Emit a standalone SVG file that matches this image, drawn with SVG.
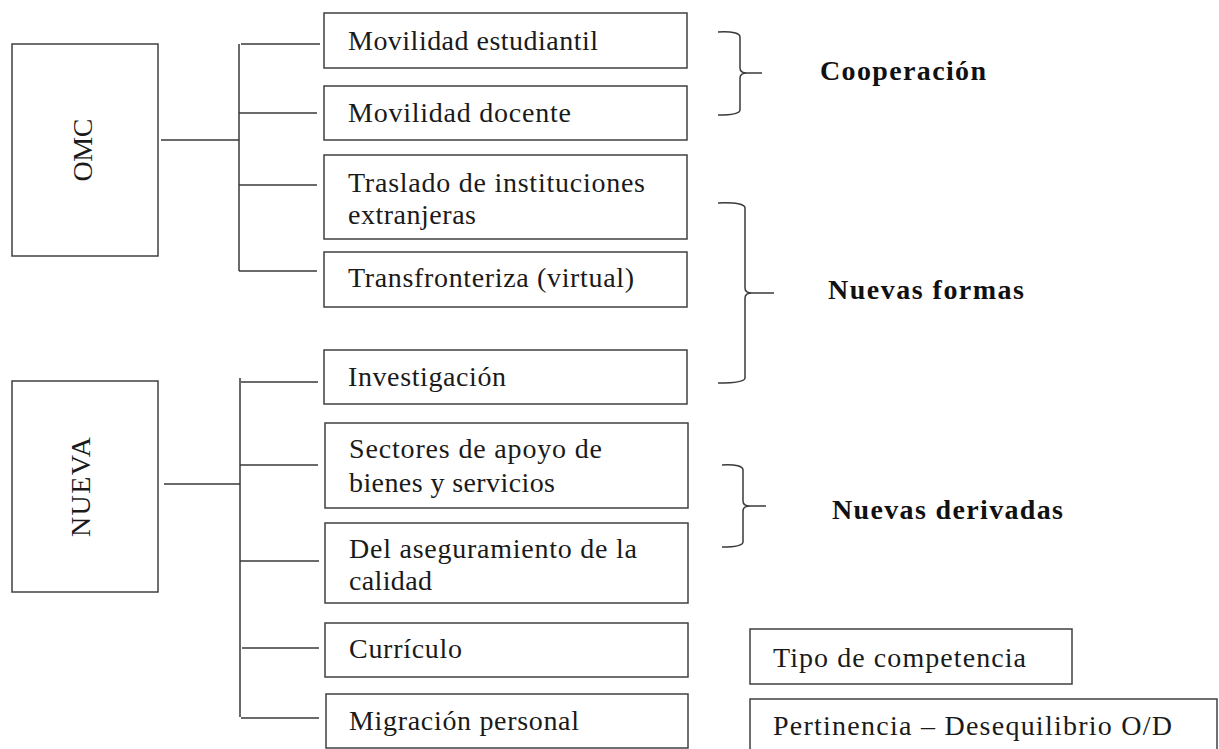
<svg xmlns="http://www.w3.org/2000/svg" width="1219" height="749" viewBox="0 0 1219 749">
<style>
.box{fill:#fff;stroke:#404040;stroke-width:1.5}
.ln{fill:none;stroke:#3a3a3a;stroke-width:1.5}
text{font-family:'Liberation Serif','Times New Roman',Times,serif;font-size:28px;fill:#1a1a1a}
.b{font-weight:bold;fill:#111}
</style>
<rect width="1219" height="749" fill="#fff"/>
<g id="connectors">
<path class="ln" d="M161,140 H239 M239,44 V271 M241,44 H320 M239,113 H317 M239,185 H317 M239,271 H317"/>
<path class="ln" d="M164,484 H240 M240,378 V717 M241,382 H318 M240,465 H318 M240,561 H319 M242,648 H319 M241,718 H319"/>
<path class="ln" d="M718,32 Q740,31 740,37 V68 Q740,73 747,73 H762 M747,73 Q740,73 740,78 V110 Q740,115 718,115"/>
<path class="ln" d="M718,203 Q745,202 745,208 V288 Q745,293 752,293 H774 M752,293 Q745,293 745,298 V378 Q745,383 718,383"/>
<path class="ln" d="M722,465 Q743,464 743,470 V501 Q743,506 750,506 H766 M750,506 Q743,506 743,511 V542 Q743,547 722,547"/>
</g>
<g id="omc"><rect class="box" x="12" y="44" width="146" height="212"/><text transform="translate(92,150) rotate(-90)" text-anchor="middle" textLength="63">OMC</text></g>
<g id="nueva"><rect class="box" x="12" y="381" width="146" height="211"/><text transform="translate(90,487) rotate(-90)" text-anchor="middle" textLength="100">NUEVA</text></g>
<g id="n1"><rect class="box" x="324" y="13" width="363" height="55"/><text x="348" y="50" textLength="250">Movilidad estudiantil</text></g>
<g id="n2"><rect class="box" x="324" y="86" width="363" height="54"/><text x="348" y="122" textLength="223">Movilidad docente</text></g>
<g id="n3"><rect class="box" x="324" y="155" width="363" height="84"/><text x="348" y="192" textLength="297">Traslado de instituciones</text><text x="348" y="224" textLength="128">extranjeras</text></g>
<g id="n4"><rect class="box" x="324" y="252" width="363" height="55"/><text x="348" y="287" textLength="286">Transfronteriza (virtual)</text></g>
<g id="n5"><rect class="box" x="324" y="350" width="363" height="54"/><text x="348" y="386" textLength="158">Investigación</text></g>
<g id="n6"><rect class="box" x="325" y="423" width="363" height="85"/><text x="349" y="458" textLength="253">Sectores de apoyo de</text><text x="349" y="492" textLength="206">bienes y servicios</text></g>
<g id="n7"><rect class="box" x="325" y="523" width="363" height="80"/><text x="349" y="558" textLength="288">Del aseguramiento de la</text><text x="349" y="590" textLength="83">calidad</text></g>
<g id="n8"><rect class="box" x="325" y="623" width="363" height="54"/><text x="349" y="658" textLength="113">Currículo</text></g>
<g id="n9"><rect class="box" x="326" y="694" width="362" height="54"/><text x="349" y="730" textLength="230">Migración personal</text></g>
<g id="l1"><text class="b" x="820" y="80" textLength="166">Cooperación</text></g>
<g id="l2"><text class="b" x="828" y="299" textLength="196">Nuevas formas</text></g>
<g id="l3"><text class="b" x="832" y="519" textLength="231">Nuevas derivadas</text></g>
<g id="r1"><rect class="box" x="750" y="629" width="322" height="55"/><text x="773" y="667" textLength="253">Tipo de competencia</text></g>
<g id="r2"><rect class="box" x="750" y="699" width="467" height="60"/><text x="773" y="735" textLength="399">Pertinencia – Desequilibrio O/D</text></g>
</svg>
